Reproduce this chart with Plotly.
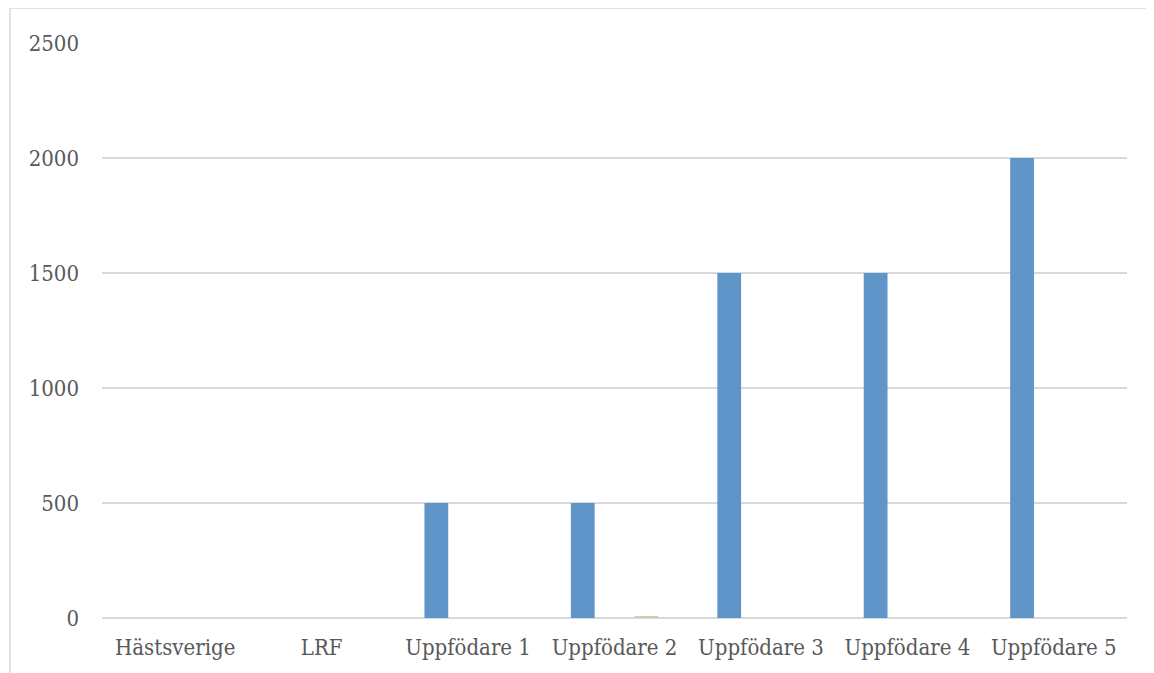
import plotly.graph_objects as go

categories = ["Hästsverige", "LRF", "Uppfödare 1", "Uppfödare 2", "Uppfödare 3", "Uppfödare 4", "Uppfödare 5"]
serie1 = [0, 0, 500, 500, 1500, 1500, 2000]
serie2 = [0, 0, 0, 0, 0, 0, 0]
serie3 = [0, 0, 0, 5, 0, 0, 0]
y_ticks = [0, 500, 1000, 1500, 2000, 2500]

fig = go.Figure()
fig.add_bar(x=categories, y=serie1, name="Serie 1", marker=dict(color="#5F95C9", line=dict(width=0)))
fig.add_bar(x=categories, y=serie2, name="Serie 2", marker=dict(color="#C0504D", line=dict(width=0)))
fig.add_bar(x=categories, y=serie3, name="Serie 3", marker=dict(color="#C9D3A8", line=dict(width=0)))

font_family = "DejaVu Serif Condensed, DejaVu Serif, serif"
fs = 22

fig.update_layout(
    width=1154, height=673, autosize=False,
    margin=dict(l=94, r=35, t=35, b=63, pad=0),
    paper_bgcolor="white", plot_bgcolor="white",
    showlegend=False,
    barmode="group", bargap=0.35, bargroupgap=0.25,
    font=dict(family=font_family, size=fs, color="#595959"),
    xaxis=dict(showgrid=False, showline=False, zeroline=False, ticks="",
               ticklabelstandoff=14, tickfont=dict(size=fs, color="#595959")),
    yaxis=dict(range=[0, 2500], tickvals=y_ticks, showgrid=True, gridcolor="#D9D9D9", gridwidth=1.5,
               zeroline=True, zerolinecolor="#D9D9D9", zerolinewidth=1.5, showline=False, ticks="",
               ticklabelstandoff=22, tickfont=dict(size=fs, color="#595959")),
    shapes=[dict(type="rect", xref="paper", yref="paper",
                 x0=(10 - 102) / 1025, x1=1.2, y0=-0.3, y1=(618 - 8) / 575,
                 line=dict(color="#D9D9D9", width=1.5), fillcolor="rgba(0,0,0,0)", layer="below")],
)

fig.write_html("out.html")
